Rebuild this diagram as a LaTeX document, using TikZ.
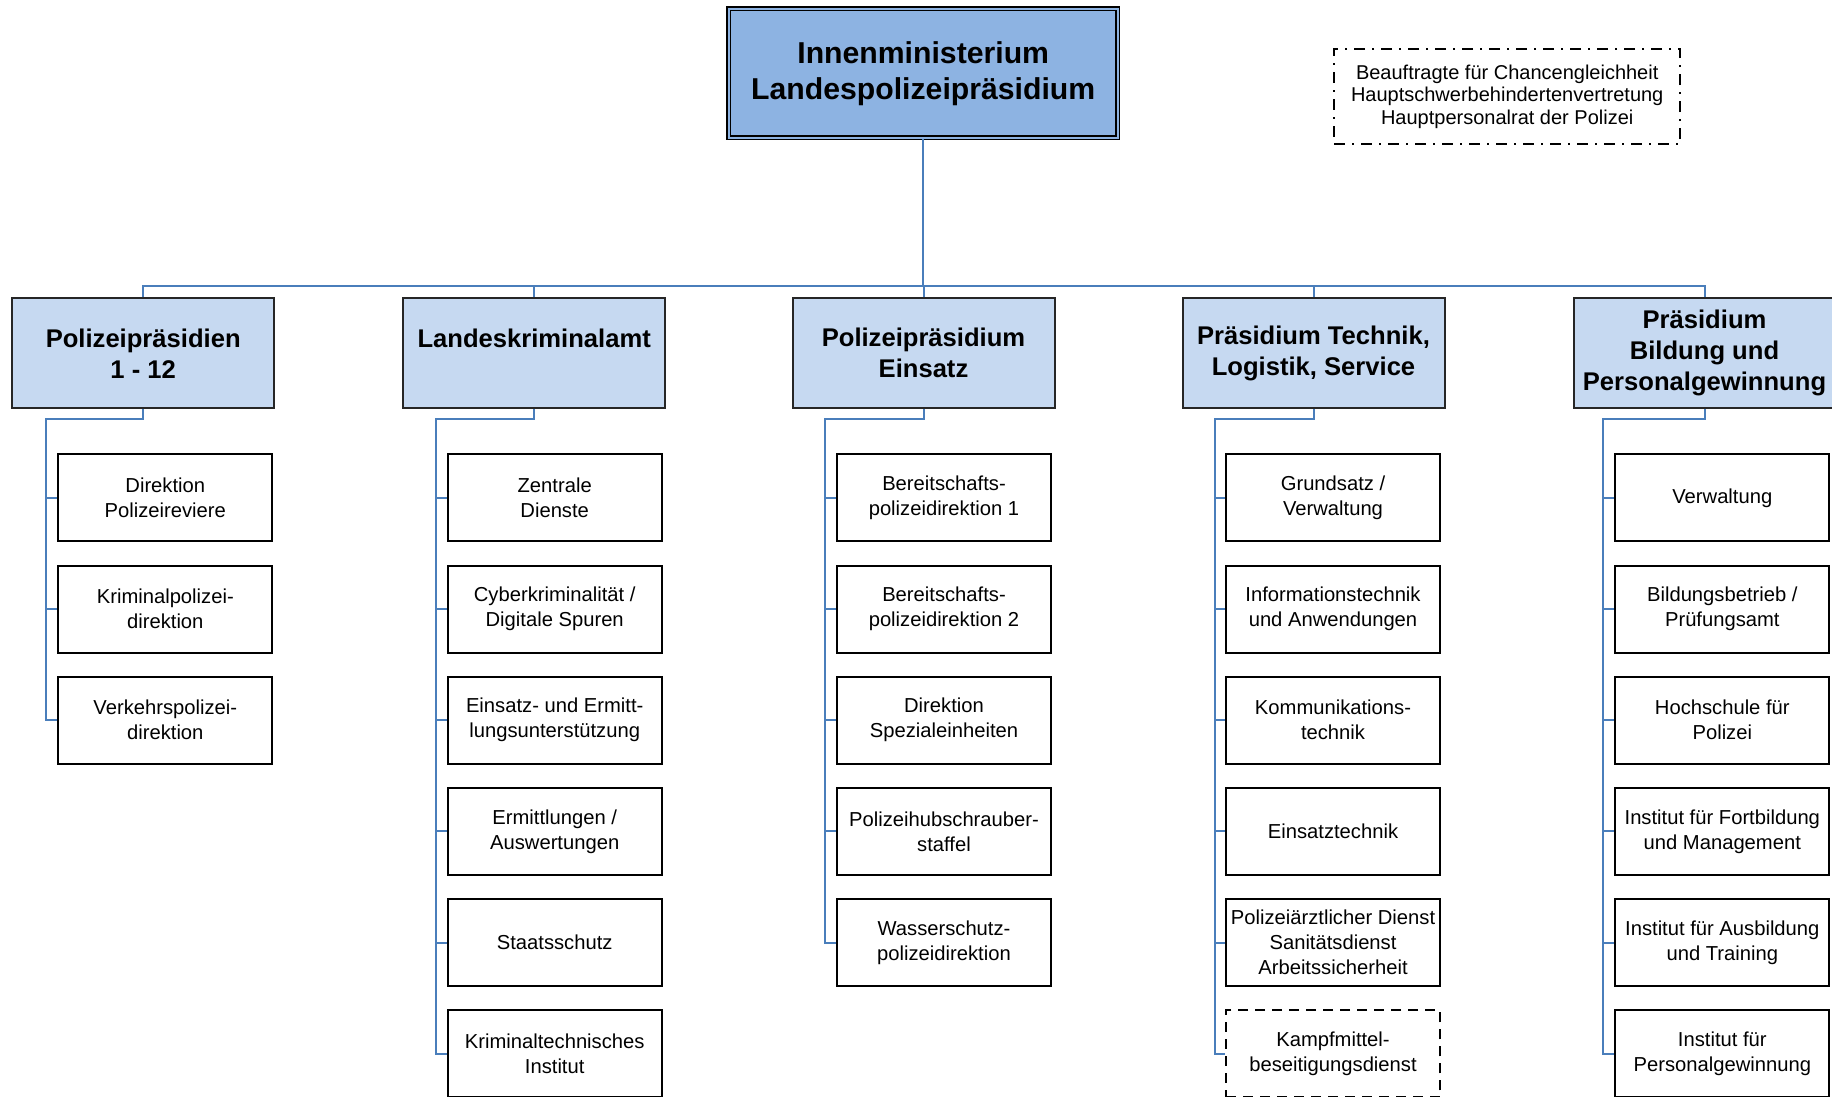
\documentclass[tikz,border=0pt]{standalone}
\usepackage{fontspec}
\setmainfont{Liberation Sans}
\definecolor{topblue}{HTML}{8DB3E2}
\definecolor{midblue}{HTML}{C6D9F1}
\definecolor{linkblue}{HTML}{4A7EBB}
\begin{document}
\begin{tikzpicture}[x=0.5pt,y=-0.5pt,
  topbox/.style={draw=black, line width=0.7pt, double=topblue, double distance=1.1pt, fill=topblue,
    minimum width=194.5pt, minimum height=64.5pt, align=center, inner sep=0pt,
    font=\fontsize{15.1}{18.3}\selectfont\bfseries},
  headbox/.style={draw=black!85, line width=1pt, fill=midblue, minimum width=131pt, minimum height=55pt,
    align=center, inner sep=0pt, font=\fontsize{12.8}{15.5}\selectfont\bfseries},
  unitbox/.style={draw=black, line width=1pt, fill=white, minimum width=107pt, minimum height=43.5pt,
    align=center, inner sep=0pt, font=\fontsize{10.1}{12.5}\selectfont},
  dashedbox/.style={dash pattern=on 5pt off 3.5pt},
  gremienbox/.style={draw=black, line width=0.75pt, dash pattern=on 5.5pt off 3.5pt on 1pt off 3.5pt,
    minimum width=173pt, minimum height=47.5pt, align=center, inner sep=0pt,
    font=\fontsize{10}{11.4}\selectfont},
  link/.style={draw=linkblue, line width=1pt}
]
\useasboundingbox (0,0) rectangle (1832,1097);

% top
\node[topbox] (top) at (923.2,73.5) {Innenministerium\\Landespolizeipräsidium};
\node[gremienbox] (gremien) at (1507.2,96.7) {Beauftragte für Chancengleichheit\\Hauptschwerbehindertenvertretung\\Hauptpersonalrat der Polizei};

% heads
\node[headbox] (h1) at (143.2,353.3) {Polizeipräsidien\\1 - 12};
\node[headbox] (h2) at (534.2,353.3) {Landeskriminalamt\\\phantom{X}};
\node[headbox] (h3) at (923.5,353.3) {Polizeipräsidium\\Einsatz};
\node[headbox] (h4) at (1313.5,353.3) {Präsidium Technik,\\Logistik, Service};
\node[headbox] (h5) at (1704.5,353.3) {Präsidium\\Bildung und\\Personalgewinnung};

% bus
\coordinate (bus) at (923.2,285.7);
\draw[link] (top.south) -- (top.south |- bus);
\draw[link] (h1.north) |- (h5.north |- bus) -- (h5.north);
\foreach \h in {h2,h3,h4} \draw[link] (\h.north) -- (\h.north |- bus);

% column 1
\foreach \t [count=\k] in {{Direktion\\Polizeireviere},{Kriminalpolizei-\\direktion},{Verkehrspolizei-\\direktion}}
  \node[unitbox] (a\k) at (165.3,{497.8+111.2*(\k-1)}) {\t};
% column 2
\foreach \t [count=\k] in {{Zentrale\\Dienste},{Cyberkriminalität /\\Digitale Spuren},{Einsatz- und Ermitt-\\lungsunterstützung},{Ermittlungen /\\Auswertungen},{Staatsschutz},{Kriminaltechnisches\\Institut}}
  \node[unitbox] (b\k) at (554.7,{497.8+111.2*(\k-1)}) {\t};
% column 3
\foreach \t [count=\k] in {{Bereitschafts-\\polizeidirektion 1},{Bereitschafts-\\polizeidirektion 2},{Direktion\\Spezialeinheiten},{Polizeihubschrauber-\\staffel},{Wasserschutz-\\polizeidirektion}}
  \node[unitbox] (c\k) at (944,{497.8+111.2*(\k-1)}) {\t};
% column 4
\foreach \t [count=\k] in {{Grundsatz /\\Verwaltung},{Informationstechnik\\und Anwendungen},{Kommunikations-\\technik},{Einsatztechnik},{Polizeiärztlicher Dienst\\Sanitätsdienst\\Arbeitssicherheit}}
  \node[unitbox] (d\k) at (1333,{497.8+111.2*(\k-1)}) {\t};
\node[unitbox,dashedbox] (d6) at (1333,{497.8+111.2*5}) {Kampfmittel-\\beseitigungsdienst};
% column 5
\foreach \t [count=\k] in {{Verwaltung},{Bildungsbetrieb /\\Prüfungsamt},{Hochschule für\\Polizei},{Institut für Fortbildung\\und Management},{Institut für Ausbildung\\und Training},{Institut für\\Personalgewinnung}}
  \node[unitbox] (e\k) at (1722.3,{497.8+111.2*(\k-1)}) {\t};

% column connectors
\coordinate (v1) at (45.7,419);
\coordinate (v2) at (435.7,419);
\coordinate (v3) at (824.6,419);
\coordinate (v4) at (1214.7,419);
\coordinate (v5) at (1603.3,419);
\draw[link] (h1.south) |- (v1) |- (a3.west);
\foreach \k in {1,2} \draw[link] (v1 |- a\k.west) -- (a\k.west);
\draw[link] (h2.south) |- (v2) |- (b6.west);
\foreach \k in {1,...,5} \draw[link] (v2 |- b\k.west) -- (b\k.west);
\draw[link] (h3.south) |- (v3) |- (c5.west);
\foreach \k in {1,...,4} \draw[link] (v3 |- c\k.west) -- (c\k.west);
\draw[link] (h4.south) |- (v4) |- (d6.west);
\foreach \k in {1,...,5} \draw[link] (v4 |- d\k.west) -- (d\k.west);
\draw[link] (h5.south) |- (v5) |- (e6.west);
\foreach \k in {1,...,5} \draw[link] (v5 |- e\k.west) -- (e\k.west);
\end{tikzpicture}
\end{document}
